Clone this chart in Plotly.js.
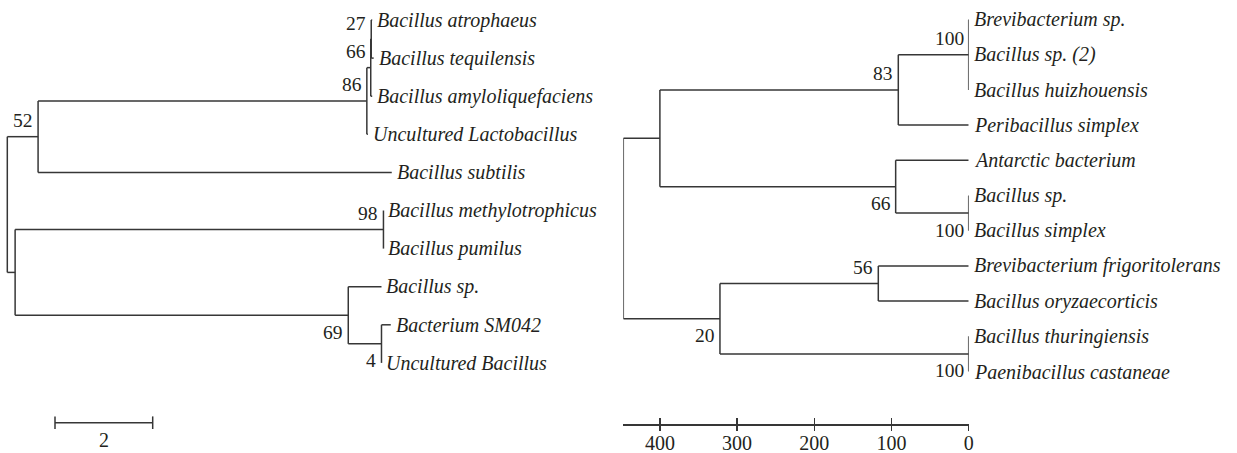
<!DOCTYPE html>
<html><head><meta charset="utf-8">
<script src="https://cdn.plot.ly/plotly-3.0.1.min.js"></script>
<style>html,body{margin:0;padding:0;background:#fff;}#chart{width:1237px;height:453px;}</style>
</head><body><div id="chart"></div>
<script>
// ---------- Left tree (distance from root, substitution units) ----------
const leftLeaves = ['Bacillus atrophaeus', 'Bacillus tequilensis', 'Bacillus amyloliquefaciens',
  'Uncultured Lactobacillus', 'Bacillus subtilis', 'Bacillus methylotrophicus', 'Bacillus pumilus',
  'Bacillus sp.', 'Bacterium SM042', 'Uncultured Bacillus'];
const leftLeafDepth = [7.47, 7.50, 7.47, 7.38, 7.87, 7.70, 7.70, 7.66, 7.85, 7.66];
// internal nodes get ids 10, 11, ... (leaves are 0..9)
const leftNodeChildren = [[0, 1], [10, 2], [11, 3], [12, 4], [5, 6], [8, 9], [7, 15], [14, 16], [13, 17]];
const leftNodeDepth = [7.45, 7.44, 7.36, 0.63, 7.70, 7.66, 6.98, 0.16, 0];
const leftBootstrap = [27, 66, 86, 52, 98, 4, 69, null, null];
const leftBootstrapSide = ['above', 'above', 'above', 'above', 'above', 'below', 'below', null, null];
const leftScaleBarLength = 2;

// ---------- Right tree (age, tips = 0) ----------
const rightLeaves = ['Brevibacterium sp.', 'Bacillus sp. (2)', 'Bacillus huizhouensis', 'Peribacillus simplex',
  'Antarctic bacterium', 'Bacillus sp.', 'Bacillus simplex', 'Brevibacterium frigoritolerans',
  'Bacillus oryzaecorticis', 'Bacillus thuringiensis', 'Paenibacillus castaneae'];
const rightLeafAge = [0, 0, 0, 0, 0, 0, 0, 0, 0, 0, 0];
// internal nodes get ids 11, 12, ... (leaves are 0..10)
const rightNodeChildren = [[0, 1, 2], [11, 3], [5, 6], [4, 13], [12, 14], [7, 8], [9, 10], [16, 17], [15, 18]];
const rightNodeAge = [0, 91.2, 0, 94.6, 400, 117.1, 0, 322.2, 447.4];
const rightBootstrap = [100, 83, 100, 66, null, 56, 100, 20, null];
const rightBootstrapSide = ['above', 'above', 'below', 'below', null, 'above', 'below', 'below', null];
const rightTickValues = [400, 300, 200, 100, 0];
const rightTickLabels = ['400', '300', '200', '100', '0'];

// ---------- styling ----------
const W = 1237, H = 453;
const TEXT = '#231f20', LINE = '#363636';
const FONT = 'Liberation Serif, Times New Roman, serif';

function buildTree(leafX, nodeChildren, nodeX) {
  const nLeaf = leafX.length;
  const xs = leafX.slice(), ys = leafX.map((_, i) => i);
  nodeChildren.forEach((ch, k) => {
    const cy = ch.map(c => ys[c]);
    xs.push(nodeX[k]);
    ys.push((Math.min(...cy) + Math.max(...cy)) / 2);
  });
  const lx = [], ly = [];
  nodeChildren.forEach((ch, k) => {
    const id = nLeaf + k;
    const cy = ch.map(c => ys[c]);
    lx.push(xs[id], xs[id], null); ly.push(Math.min(...cy), Math.max(...cy), null);
    ch.forEach(c => {
      if (xs[c] !== xs[id]) { lx.push(xs[id], xs[c], null); ly.push(ys[c], ys[c], null); }
    });
  });
  return {xs, ys, lx, ly};
}

const L = buildTree(leftLeafDepth, leftNodeChildren, leftNodeDepth);
const R = buildTree(rightLeafAge, rightNodeChildren, rightNodeAge);

// pixel mapping helpers for axis ranges
const leftPxPerUnit = 48.85, leftRootPx = 7.3;
const leftRowTop = 20, leftRowStep = 38.1;
const rightRowTop = 19.5, rightRowStep = 35.2;
const rightZeroPx = 968.7, rightPxPerUnit = 0.772;
const rightRootAge = Math.max(...rightNodeAge);

const traces = [];
traces.push({type: 'scatter', mode: 'lines', x: L.lx, y: L.ly, xaxis: 'x', yaxis: 'y',
  line: {color: LINE, width: 1.5}, hoverinfo: 'skip', connectgaps: false});
traces.push({type: 'scatter', mode: 'lines', x: R.lx, y: R.ly, xaxis: 'x2', yaxis: 'y2',
  line: {color: LINE, width: 1.5}, hoverinfo: 'skip', connectgaps: false});

// left scale bar
const sbStart = (55 - leftRootPx) / leftPxPerUnit;
const sbY = (422.7 - leftRowTop) / leftRowStep;
const sbTick = 6.3 / leftRowStep;
traces.push({type: 'scatter', mode: 'lines',
  x: [sbStart, sbStart + leftScaleBarLength, null, sbStart, sbStart, null, sbStart + leftScaleBarLength, sbStart + leftScaleBarLength],
  y: [sbY, sbY, null, sbY - sbTick, sbY + sbTick, null, sbY - sbTick, sbY + sbTick],
  xaxis: 'x', yaxis: 'y', line: {color: LINE, width: 1.5}, hoverinfo: 'skip'});
// dummy trace for the overlay tick axis
traces.push({type: 'scatter', mode: 'markers', x: [0], y: [0], xaxis: 'x3', yaxis: 'y2',
  marker: {opacity: 0}, hoverinfo: 'skip'});

const annotations = [];
function leafLabels(names, T, xref, yref) {
  names.forEach((n, i) => annotations.push({x: T.xs[i], y: T.ys[i], xref, yref, text: n, showarrow: false,
    xanchor: 'left', yanchor: 'middle', xshift: 3,
    font: {family: FONT, size: 20, color: TEXT, style: 'italic'}}));
}
function bootLabels(vals, sides, T, nLeaf, xref, yref) {
  vals.forEach((v, k) => {
    if (v === null) return;
    const id = nLeaf + k;
    annotations.push({x: T.xs[id], y: T.ys[id], xref, yref, text: String(v), showarrow: false,
      xanchor: 'right', yanchor: 'middle', xshift: -3, yshift: sides[k] === 'above' ? 16 : -17,
      font: {family: FONT, size: 19.5, color: TEXT}});
  });
}
leafLabels(leftLeaves, L, 'x', 'y');
leafLabels(rightLeaves, R, 'x2', 'y2');
bootLabels(leftBootstrap, leftBootstrapSide, L, leftLeaves.length, 'x', 'y');
bootLabels(rightBootstrap, rightBootstrapSide, R, rightLeaves.length, 'x2', 'y2');
annotations.push({x: sbStart + leftScaleBarLength / 2, y: sbY, xref: 'x', yref: 'y', text: String(leftScaleBarLength),
  showarrow: false, xanchor: 'center', yanchor: 'middle', yshift: -17,
  font: {family: FONT, size: 20, color: TEXT}});

const hidden = {showgrid: false, zeroline: false, showticklabels: false, ticks: '', showline: false, fixedrange: true};
const leftHalf = W / 2;
const axPos = 1 - 424.3 / H;
const x2Domain = [(rightZeroPx - rightRootAge * rightPxPerUnit) / W, rightZeroPx / W];

const layout = {
  width: W, height: H, margin: {l: 0, r: 0, t: 0, b: 0}, showlegend: false,
  paper_bgcolor: '#fff', plot_bgcolor: 'rgba(0,0,0,0)',
  xaxis: Object.assign({}, hidden, {domain: [0, 0.5], anchor: 'y',
    range: [-leftRootPx / leftPxPerUnit, (leftHalf - leftRootPx) / leftPxPerUnit]}),
  yaxis: Object.assign({}, hidden, {domain: [0, 1], anchor: 'x',
    range: [(H - leftRowTop) / leftRowStep, -leftRowTop / leftRowStep]}),
  // labelled axis: upward ticks, labels right under the line
  xaxis2: {domain: x2Domain, range: [rightRootAge, 0], anchor: 'free', position: axPos,
    showgrid: false, zeroline: false, showline: true, linecolor: LINE, linewidth: 1.5,
    ticks: 'inside', ticklen: 6, tickwidth: 1.5, tickcolor: LINE,
    tickmode: 'array', tickvals: rightTickValues, ticktext: rightTickLabels,
    tickfont: {family: FONT, size: 20, color: TEXT}, fixedrange: true},
  // overlay axis: downward half of each tick
  xaxis3: {overlaying: 'x2', domain: x2Domain, range: [rightRootAge, 0], anchor: 'free', position: axPos,
    showgrid: false, zeroline: false, showline: false, showticklabels: false,
    ticks: 'outside', ticklen: 6, tickwidth: 1.5, tickcolor: LINE,
    tickmode: 'array', tickvals: rightTickValues, fixedrange: true},
  yaxis2: Object.assign({}, hidden, {domain: [0, 1], anchor: 'x2',
    range: [(H - rightRowTop) / rightRowStep, -rightRowTop / rightRowStep]}),
  annotations
};

Plotly.newPlot('chart', traces, layout, {staticPlot: true, displayModeBar: false});
</script></body></html>
